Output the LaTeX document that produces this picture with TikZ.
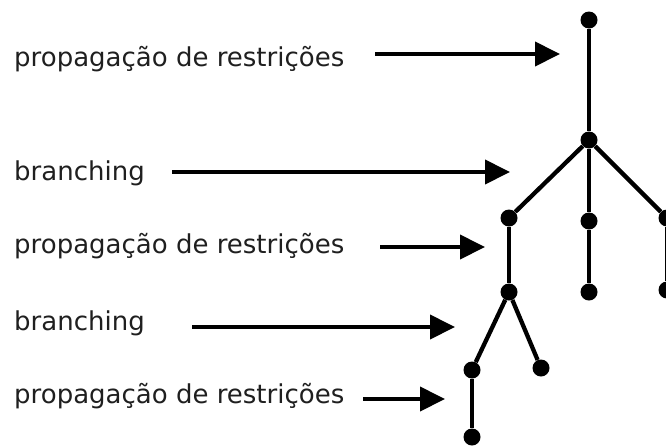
\documentclass[tikz,border=0pt]{standalone}
\usepackage{fontspec}
\setmainfont{DejaVu Sans}
\usetikzlibrary{arrows.meta}
\begin{document}
\begin{tikzpicture}[x=1pt,y=-1pt,
  dot/.style={circle,fill=black,inner sep=0pt,minimum size=17pt},
  edge/.style={line width=4.3pt},
  arr/.style={line width=4pt,-{Triangle[length=25pt,width=24pt]}},
  lbl/.style={anchor=base west,inner sep=0pt,font=\fontsize{26}{30}\selectfont,text=black!88}]
\useasboundingbox (0,0) rectangle (666,445);
% tree
\node[dot] (r) at (589,20) {};
\node[dot] (a) at (589,140) {};
\node[dot] (b1) at (509,218) {};
\node[dot] (b2) at (589,221) {};
\node[dot] (b3) at (667,218) {};
\node[dot] (c1) at (509,292) {};
\node[dot] (c2) at (589,292) {};
\node[dot] (c3) at (667,290) {};
\node[dot] (d1) at (472,370) {};
\node[dot] (d2) at (541,368) {};
\node[dot] (e1) at (472,437) {};
\draw[edge] (r) -- (a);
\draw[edge] (a) -- (b1);
\draw[edge] (a) -- (b2);
\draw[edge] (a) -- (b3);
\draw[edge] (b1) -- (c1);
\draw[edge] (b2) -- (c2);
\draw[edge] (b3) -- (c3);
\draw[edge] (c1) -- (d1);
\draw[edge] (c1) -- (d2);
\draw[edge] (d1) -- (e1);
% labels
\node[lbl] (t1) at (14,66) {propagação de restrições};
\node[lbl] (t2) at (14,180) {branching};
\node[lbl] (t3) at (14,253) {propagação de restrições};
\node[lbl] (t4) at (14,330) {branching};
\node[lbl] (t5) at (14,403) {propagação de restrições};
% arrows
\coordinate (s1) at (375,54);   \coordinate (e1t) at (560,54);
\coordinate (s2) at (172,172);  \coordinate (e2t) at (510,172);
\coordinate (s3) at (380,247);  \coordinate (e3t) at (485,247);
\coordinate (s4) at (192,327);  \coordinate (e4t) at (455,327);
\coordinate (s5) at (363,399);  \coordinate (e5t) at (445,399);
\draw[arr] (s1) -- (e1t);
\draw[arr] (s2) -- (e2t);
\draw[arr] (s3) -- (e3t);
\draw[arr] (s4) -- (e4t);
\draw[arr] (s5) -- (e5t);
\end{tikzpicture}
\end{document}
